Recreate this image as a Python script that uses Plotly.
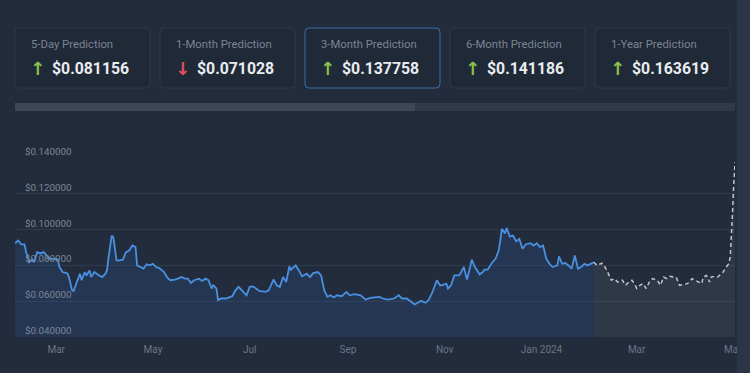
import pandas as pd
import plotly.graph_objects as go

# ---------------- data ----------------
start_date = "2023-02-03"

hist_day = [0, 2, 4, 6, 7, 9, 11, 12, 14, 16, 18, 20, 22, 25, 27, 28, 30, 33, 34, 36,
            37, 39, 41, 42, 44, 45, 47, 48, 50, 53, 55, 57, 58, 59, 61, 62, 64, 66, 68, 70,
            72, 74, 76, 77, 79, 81, 83, 85, 87, 89, 91, 94, 96, 98, 101, 103, 105, 107, 109, 111,
            113, 116, 118, 120, 122, 124, 125, 127, 128, 130, 133, 137, 139, 141, 143, 146, 148, 150, 152, 154,
            158, 160, 163, 165, 167, 169, 171, 173, 174, 177, 179, 181, 184, 186, 188, 191, 193, 195, 197, 199,
            201, 203, 206, 209, 211, 214, 218, 221, 224, 227, 230, 232, 235, 239, 242, 244, 247, 249, 252, 254,
            256, 259, 261, 263, 264, 266, 268, 269, 272, 273, 275, 277, 280, 281, 283, 285, 287, 288, 290, 293,
            295, 296, 298, 301, 303, 305, 306, 307, 309, 310, 312, 314, 316, 318, 320, 322, 325, 327, 329, 331,
            333, 335, 337, 339, 342, 343, 345, 347, 349, 351, 353, 355, 357, 359, 361, 363, 365]
hist_val = [0.0924, 0.0939, 0.0917, 0.0917, 0.0874, 0.0818, 0.0833, 0.0818, 0.0874, 0.0867,
            0.0874, 0.0856, 0.0837, 0.0837, 0.0833, 0.0791, 0.0763, 0.0756, 0.0735, 0.0661,
            0.0657, 0.0707, 0.0754, 0.0717, 0.0763, 0.0744, 0.0772, 0.0735, 0.0763, 0.0744,
            0.0735, 0.0754, 0.0772, 0.0846, 0.0967, 0.0957, 0.0828, 0.0828, 0.0832, 0.0874,
            0.0883, 0.0911, 0.0902, 0.0800, 0.0791, 0.0782, 0.0806, 0.0800, 0.0809, 0.0791,
            0.0785, 0.0763, 0.0732, 0.0717, 0.0721, 0.0726, 0.0735, 0.0726, 0.0726, 0.0702,
            0.0717, 0.0726, 0.0713, 0.0726, 0.0717, 0.0671, 0.0689, 0.0671, 0.0606, 0.0615,
            0.0615, 0.0628, 0.0661, 0.0680, 0.0661, 0.0633, 0.0680, 0.0683, 0.0671, 0.0657,
            0.0652, 0.0661, 0.0721, 0.0689, 0.0680, 0.0735, 0.0707, 0.0794, 0.0776, 0.0800,
            0.0772, 0.0739, 0.0754, 0.0735, 0.0757, 0.0763, 0.0744, 0.0661, 0.0624, 0.0633,
            0.0621, 0.0633, 0.0628, 0.0652, 0.0633, 0.0639, 0.0633, 0.0609, 0.0618, 0.0621,
            0.0624, 0.0615, 0.0609, 0.0615, 0.0633, 0.0615, 0.0615, 0.0602, 0.0582, 0.0591,
            0.0602, 0.0591, 0.0609, 0.0646, 0.0671, 0.0717, 0.0689, 0.0689, 0.0698, 0.0671,
            0.0689, 0.0744, 0.0744, 0.0757, 0.0791, 0.0721, 0.0791, 0.0832, 0.0791, 0.0750,
            0.0763, 0.0776, 0.0776, 0.0818, 0.0837, 0.0883, 0.0939, 0.1004, 0.0979, 0.1009,
            0.0961, 0.0967, 0.0935, 0.0948, 0.0893, 0.0917, 0.0924, 0.0911, 0.0924, 0.0902,
            0.0911, 0.0837, 0.0809, 0.0791, 0.0800, 0.0850, 0.0809, 0.0813, 0.0800, 0.0782,
            0.0856, 0.0782, 0.0791, 0.0809, 0.0800, 0.0809, 0.0818]

pred_day = [365, 367, 370, 372, 374, 376, 378, 380, 383, 385, 387, 389, 391, 392, 394, 396,
            398, 400, 402, 405, 407, 409, 411, 413, 415, 417, 419, 421, 424, 427, 429, 431,
            433, 434, 436, 438, 439, 441, 443, 446, 448, 450, 451, 451.5, 452, 452.5, 453,
            453.5, 454]
pred_val = [0.0818, 0.0800, 0.0813, 0.0791, 0.0757, 0.0717, 0.0726, 0.0707, 0.0717, 0.0689,
            0.0707, 0.0717, 0.0694, 0.0671, 0.0689, 0.0698, 0.0671, 0.0707, 0.0726, 0.0717,
            0.0689, 0.0735, 0.0726, 0.0739, 0.0735, 0.0732, 0.0689, 0.0694, 0.0698, 0.0726,
            0.0717, 0.0707, 0.0698, 0.0735, 0.0744, 0.0707, 0.0735, 0.0739, 0.0735, 0.0757,
            0.0782, 0.0809, 0.0846, 0.0921, 0.0995, 0.1106, 0.1217, 0.1328, 0.137758]

card_titles = ["5-Day Prediction", "1-Month Prediction", "3-Month Prediction",
               "6-Month Prediction", "1-Year Prediction"]
card_values = ["$0.081156", "$0.071028", "$0.137758", "$0.141186", "$0.163619"]
card_up = [True, False, True, True, True]

x_tick_dates = ["2023-03-01", "2023-05-01", "2023-07-01", "2023-09-01", "2023-11-01",
                "2024-01-01", "2024-03-01", "2024-05-01"]
x_tick_text = ["Mar", "May", "Jul", "Sep", "Nov", "Jan 2024", "Mar", "May"]
y_ticks = [0.04, 0.06, 0.08, 0.10, 0.12, 0.14]

# ---------------- figure ----------------
W, H = 750, 373
ML, MR, MT, MB = 15, 15, 158, 36
PW, PH = W - ML - MR, H - MT - MB

base = pd.Timestamp(start_date)
hist_x = base + pd.to_timedelta(hist_day, unit="D")
pred_x = base + pd.to_timedelta(pred_day, unit="D")

BG = "#222c3c"
FONT = "Roboto"


def px(x):
    return (x - ML) / PW


def py(y):
    return (H - MB - y) / PH


def rrect(x0, y0, x1, y1, r):
    pts = [
        f"M {px(x0 + r)} {py(y0)}",
        f"L {px(x1 - r)} {py(y0)}",
        f"Q {px(x1)} {py(y0)} {px(x1)} {py(y0 + r)}",
        f"L {px(x1)} {py(y1 - r)}",
        f"Q {px(x1)} {py(y1)} {px(x1 - r)} {py(y1)}",
        f"L {px(x0 + r)} {py(y1)}",
        f"Q {px(x0)} {py(y1)} {px(x0)} {py(y1 - r)}",
        f"L {px(x0)} {py(y0 + r)}",
        f"Q {px(x0)} {py(y0)} {px(x0 + r)} {py(y0)}",
        "Z",
    ]
    return " ".join(pts)


fig = go.Figure()

fig.add_trace(go.Scatter(
    x=hist_x, y=hist_val, mode="lines",
    line=dict(color="#4a90e2", width=1.8),
    fill="tozeroy", fillcolor="rgba(59,130,246,0.12)",
    hoverinfo="skip", showlegend=False,
))
fig.add_trace(go.Scatter(
    x=pred_x, y=pred_val, mode="lines",
    line=dict(color="#c0c4ca", width=1.5, dash="4px,3px"),
    fill="tozeroy", fillcolor="rgba(255,255,255,0.06)",
    hoverinfo="skip", showlegend=False,
))

shapes = []
annotations = []

# y tick labels drawn inside the plot, just above each gridline
for v in y_ticks:
    annotations.append(dict(
        text=f"${v:.6f}", x=px(23), y=v, xref="paper", yref="y",
        xanchor="left", yanchor="middle", yshift=6.5, showarrow=False,
        font=dict(family=FONT, size=9.8, color="#7d8696"),
    ))

# prediction cards
for i, (t, v, up) in enumerate(zip(card_titles, card_values, card_up)):
    x0 = 15 + 145 * i
    selected = (i == 2)
    shapes.append(dict(
        type="path", path=rrect(x0, 28, x0 + 135, 88, 4),
        xref="paper", yref="paper",
        fillcolor="rgba(0,0,0,0.05)",
        line=dict(color="#3c6ea6" if selected else "#2d3848", width=1),
        layer="above",
    ))
    annotations.append(dict(
        text=t, x=px(x0 + 14), y=py(45), xref="paper", yref="paper",
        xanchor="left", yanchor="middle", showarrow=False,
        font=dict(family=FONT, size=11.3, color="#7b8494"),
    ))
    annotations.append(dict(
        text="<b>↑</b>" if up else "<b>↓</b>", x=px(x0 + 22), y=py(68),
        xref="paper", yref="paper",
        xanchor="center", yanchor="middle", showarrow=False,
        font=dict(family="DejaVu Sans", size=18, color="#8bc34a" if up else "#e0505c"),
    ))
    annotations.append(dict(
        text=f"<b>{v}</b>", x=px(x0 + 35), y=py(68), xref="paper", yref="paper",
        xanchor="left", yanchor="middle", showarrow=False,
        font=dict(family=FONT, size=15.8, color="#e9ecef"),
    ))

# scrollbar
shapes.append(dict(type="rect", xref="paper", yref="paper",
                   x0=px(15), x1=px(735), y0=py(111), y1=py(103),
                   fillcolor="#303a4a", line=dict(width=0), layer="above"))
shapes.append(dict(type="rect", xref="paper", yref="paper",
                   x0=px(15), x1=px(415), y0=py(111), y1=py(103),
                   fillcolor="#3d4757", line=dict(width=0), layer="above"))
# right edge strip
shapes.append(dict(type="rect", xref="paper", yref="paper",
                   x0=px(737), x1=px(751), y0=py(374), y1=py(-1),
                   fillcolor="#2b3546", line=dict(width=0), layer="above"))

fig.update_layout(
    width=W, height=H,
    margin=dict(l=ML, r=MR, t=MT, b=MB, autoexpand=False),
    paper_bgcolor=BG, plot_bgcolor=BG,
    shapes=shapes, annotations=annotations,
    font=dict(family=FONT),
    xaxis=dict(
        type="date", automargin=False,
        range=[pred_x[-1] - pd.Timedelta(days=454), pred_x[-1]],
        tickvals=pd.to_datetime(x_tick_dates), ticktext=x_tick_text,
        showgrid=False, zeroline=False, showline=False, ticks="",
        ticklabelstandoff=5,
        tickfont=dict(family=FONT, size=10, color="#6c7687"),
    ),
    yaxis=dict(
        range=[0.04, 0.14], automargin=False,
        tickvals=y_ticks, showticklabels=False,
        showgrid=True, gridcolor="#2f3a4b", gridwidth=1,
        zeroline=False, showline=False, ticks="",
    ),
)

fig.write_html(
    "out.html",
    config={"displayModeBar": False, "responsive": False},
    post_script=(
        "document.body.style.margin='0';"
        "document.body.style.background='#222c3c';"
        "document.body.style.overflow='hidden';"
        "document.documentElement.style.overflow='hidden';"
    ),
)
